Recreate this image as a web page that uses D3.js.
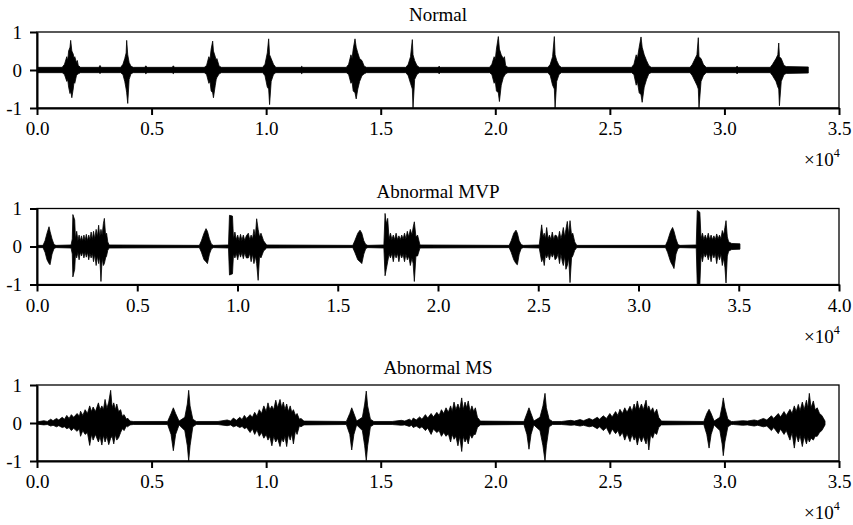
<!DOCTYPE html>
<html>
<head>
<meta charset="utf-8">
<script src="https://cdn.jsdelivr.net/npm/d3@7"></script>
<style>
  body { margin: 0; background: #fff; }
  text { font-family: "Liberation Serif", "Times New Roman", serif; }
</style>
</head>
<body>
<svg id="chart" width="853" height="525"></svg>
<script>
// panel titles, x extents (samples) and ticks
var titles = ["Normal", "Abnormal MVP", "Abnormal MS"];
var xMax = [35000, 40000, 35000];
var xTicks = [
    [0, 5000, 10000, 15000, 20000, 25000, 30000, 35000],
    [0, 5000, 10000, 15000, 20000, 25000, 30000, 35000, 40000],
    [0, 5000, 10000, 15000, 20000, 25000, 30000, 35000]
];
var yTicks = [-1, 0, 1];

// signal envelopes: [sample, upper, lower]
var normalEnv = [
    [0, 0.07, -0.07],
    [1100, 0.07, -0.07], [1200, 0.15, -0.12], [1300, 0.35, -0.3], [1340, 0.25, -0.25], [1380, 0.5, -0.45],
    [1440, 0.6, -0.62], [1470, 0.78, -0.55], [1520, 0.5, -0.73], [1580, 0.42, -0.5], [1620, 0.3, -0.3],
    [1650, 0.35, -0.35], [1720, 0.2, -0.15], [1760, 0.25, -0.12], [1800, 0.12, -0.1], [1900, 0.07, -0.07],
    [2700, 0.07, -0.07], [2750, 0.12, -0.09], [2800, 0.07, -0.07],
    [3650, 0.07, -0.07], [3750, 0.15, -0.12], [3830, 0.3, -0.3], [3890, 0.45, -0.5], [3914, 0.78, -0.6],
    [3960, 0.4, -0.88], [4020, 0.2, -0.25], [4100, 0.1, -0.1], [4200, 0.07, -0.07],
    [4700, 0.07, -0.07], [4750, 0.11, -0.1], [4800, 0.07, -0.07],
    [5900, 0.07, -0.07], [5950, 0.11, -0.1], [6000, 0.07, -0.07],
    [7300, 0.07, -0.07], [7400, 0.12, -0.12], [7500, 0.35, -0.35], [7550, 0.28, -0.3], [7600, 0.55, -0.55],
    [7667, 0.76, -0.6], [7700, 0.5, -0.73], [7780, 0.35, -0.4], [7820, 0.25, -0.25], [7850, 0.3, -0.2],
    [7950, 0.1, -0.1], [8050, 0.07, -0.07],
    [9850, 0.07, -0.07], [9950, 0.15, -0.15], [10050, 0.45, -0.45], [10110, 0.82, -0.5], [10150, 0.4, -0.91],
    [10220, 0.3, -0.3], [10320, 0.15, -0.12], [10420, 0.07, -0.07],
    [11500, 0.07, -0.07], [11550, 0.1, -0.1], [11600, 0.07, -0.07],
    [13500, 0.07, -0.07], [13600, 0.15, -0.12], [13700, 0.4, -0.35], [13750, 0.3, -0.3], [13800, 0.55, -0.55],
    [13878, 0.82, -0.6], [13930, 0.6, -0.76], [14000, 0.45, -0.5], [14080, 0.3, -0.3], [14180, 0.25, -0.15],
    [14280, 0.1, -0.1], [14380, 0.07, -0.07],
    [16100, 0.07, -0.07], [16200, 0.15, -0.15], [16300, 0.35, -0.35], [16380, 0.8, -0.5], [16410, 0.4, -1.0],
    [16480, 0.25, -0.25], [16580, 0.12, -0.12], [16680, 0.07, -0.07],
    [17500, 0.07, -0.07], [17550, 0.1, -0.1], [17600, 0.07, -0.07],
    [19750, 0.07, -0.07], [19850, 0.15, -0.12], [19950, 0.35, -0.35], [20000, 0.28, -0.3], [20050, 0.55, -0.55],
    [20133, 0.88, -0.6], [20180, 0.55, -0.83], [20260, 0.4, -0.4], [20350, 0.3, -0.2], [20400, 0.35, -0.15],
    [20450, 0.12, -0.1], [20550, 0.07, -0.07],
    [22300, 0.07, -0.07], [22400, 0.15, -0.15], [22500, 0.35, -0.4], [22577, 0.88, -0.5], [22610, 0.4, -1.0],
    [22680, 0.25, -0.3], [22780, 0.12, -0.12], [22880, 0.07, -0.07],
    [25950, 0.07, -0.07], [26050, 0.15, -0.12], [26150, 0.4, -0.4], [26200, 0.3, -0.3], [26280, 0.6, -0.6],
    [26360, 0.87, -0.65], [26410, 0.6, -0.85], [26500, 0.4, -0.45], [26600, 0.25, -0.25], [26700, 0.12, -0.1],
    [26800, 0.07, -0.07],
    [28500, 0.07, -0.07], [28600, 0.15, -0.15], [28720, 0.3, -0.3], [28800, 0.4, -0.4], [28860, 0.85, -0.5],
    [28890, 0.35, -1.0], [28980, 0.3, -0.3], [29080, 0.15, -0.15], [29200, 0.07, -0.07],
    [30500, 0.07, -0.07], [30550, 0.1, -0.1], [30600, 0.07, -0.07],
    [32000, 0.07, -0.07], [32100, 0.15, -0.15], [32250, 0.3, -0.3], [32330, 0.4, -0.45], [32370, 0.71, -0.5],
    [32400, 0.35, -0.94], [32480, 0.3, -0.3], [32600, 0.12, -0.12], [32700, 0.09, -0.09],
    [33660, 0.08, -0.08]
];

var mvpEnv = [
    [0, 0.03, -0.03],
    [300, 0.03, -0.03], [400, 0.15, -0.15], [500, 0.35, -0.35], [600, 0.52, -0.45], [650, 0.4, -0.48],
    [750, 0.2, -0.2], [850, 0.05, -0.05], [950, 0.03, -0.03],
    [1700, 0.04, -0.04], [1760, 0.2, -0.2], [1790, 0.84, -0.8], [1880, 0.7, -0.6], [1920, 0.2, -0.2],
    [1980, 0.4, -0.3], [2040, 0.15, -0.15], [2100, 0.3, -0.35], [2160, 0.15, -0.15], [2220, 0.28, -0.25],
    [2280, 0.14, -0.14], [2340, 0.3, -0.3], [2400, 0.15, -0.15], [2460, 0.32, -0.28], [2520, 0.15, -0.15],
    [2580, 0.3, -0.35], [2640, 0.18, -0.18], [2700, 0.38, -0.3], [2760, 0.18, -0.18], [2820, 0.4, -0.4],
    [2880, 0.2, -0.2], [2950, 0.45, -0.5], [3010, 0.25, -0.25], [3075, 0.56, -0.45], [3130, 0.25, -0.25],
    [3190, 0.45, -0.92], [3250, 0.3, -0.3], [3310, 0.6, -0.5], [3360, 0.74, -0.45], [3420, 0.3, -0.3],
    [3470, 0.35, -0.25], [3530, 0.12, -0.1], [3600, 0.04, -0.04],
    [8100, 0.03, -0.03], [8200, 0.15, -0.15], [8330, 0.35, -0.35], [8430, 0.47, -0.4], [8500, 0.4, -0.45],
    [8600, 0.2, -0.2], [8700, 0.06, -0.06], [8800, 0.03, -0.03],
    [9550, 0.04, -0.04], [9600, 0.82, -0.75], [9750, 0.8, -0.72], [9800, 0.2, -0.2], [9870, 0.38, -0.3],
    [9940, 0.18, -0.18], [10010, 0.3, -0.35], [10080, 0.15, -0.15], [10150, 0.32, -0.28], [10220, 0.16, -0.16],
    [10290, 0.3, -0.32], [10360, 0.16, -0.16], [10440, 0.28, -0.3], [10540, 0.35, -0.3], [10610, 0.18, -0.18],
    [10680, 0.3, -0.4], [10750, 0.2, -0.2], [10820, 0.45, -0.45], [10890, 0.25, -0.25], [10955, 0.73, -0.45],
    [11030, 0.45, -0.89], [11100, 0.25, -0.25], [11170, 0.35, -0.3], [11300, 0.15, -0.12], [11455, 0.04, -0.04],
    [15750, 0.03, -0.03], [15850, 0.15, -0.15], [16000, 0.35, -0.35], [16110, 0.43, -0.4], [16200, 0.35, -0.45],
    [16300, 0.15, -0.2], [16400, 0.05, -0.05], [16500, 0.03, -0.03],
    [17300, 0.04, -0.04], [17360, 0.87, -0.77], [17420, 0.6, -0.6], [17490, 0.74, -0.4], [17560, 0.2, -0.2],
    [17630, 0.35, -0.3], [17700, 0.18, -0.18], [17770, 0.3, -0.4], [17840, 0.18, -0.18], [17910, 0.35, -0.3],
    [17980, 0.18, -0.18], [18050, 0.28, -0.4], [18120, 0.18, -0.18], [18190, 0.3, -0.3], [18260, 0.2, -0.2],
    [18330, 0.35, -0.4], [18400, 0.2, -0.2], [18470, 0.4, -0.35], [18540, 0.25, -0.25], [18620, 0.45, -0.5],
    [18700, 0.3, -0.3], [18760, 0.5, -0.45], [18820, 0.65, -0.92], [18900, 0.25, -0.25], [18980, 0.3, -0.25],
    [19100, 0.04, -0.04],
    [23550, 0.03, -0.03], [23650, 0.15, -0.15], [23780, 0.35, -0.35], [23890, 0.43, -0.45], [23960, 0.35, -0.48],
    [24050, 0.15, -0.2], [24150, 0.05, -0.05], [24250, 0.03, -0.03],
    [25050, 0.04, -0.04], [25170, 0.57, -0.4], [25240, 0.25, -0.3], [25300, 0.35, -0.5], [25360, 0.2, -0.2],
    [25420, 0.5, -0.3], [25490, 0.2, -0.2], [25560, 0.3, -0.35], [25630, 0.18, -0.18], [25700, 0.38, -0.28],
    [25770, 0.18, -0.18], [25840, 0.3, -0.35], [25920, 0.28, -0.3], [25990, 0.18, -0.18], [26060, 0.4, -0.45],
    [26130, 0.2, -0.2], [26200, 0.35, -0.4], [26250, 0.5, -0.5], [26320, 0.25, -0.25], [26380, 0.45, -0.6],
    [26450, 0.66, -0.5], [26520, 0.3, -0.3], [26585, 0.68, -0.95], [26660, 0.3, -0.3], [26720, 0.35, -0.25],
    [26820, 0.12, -0.1], [26920, 0.03, -0.03],
    [31350, 0.03, -0.03], [31450, 0.15, -0.15], [31600, 0.4, -0.4], [31700, 0.5, -0.5], [31770, 0.4, -0.58],
    [31870, 0.2, -0.2], [31970, 0.05, -0.05], [32070, 0.03, -0.03],
    [32880, 0.04, -0.04], [32930, 0.95, -1.0], [33060, 0.9, -1.0], [33120, 0.2, -0.2], [33190, 0.35, -0.4],
    [33260, 0.18, -0.18], [33330, 0.3, -0.28], [33400, 0.18, -0.18], [33480, 0.35, -0.35], [33550, 0.18, -0.18],
    [33620, 0.3, -0.4], [33690, 0.18, -0.18], [33760, 0.28, -0.3], [33830, 0.18, -0.18], [33900, 0.33, -0.45],
    [33970, 0.2, -0.2], [34040, 0.3, -0.35], [34110, 0.2, -0.2], [34180, 0.42, -0.5], [34250, 0.3, -0.3],
    [34310, 0.5, -0.55], [34365, 0.68, -0.96], [34430, 0.25, -0.25], [34500, 0.12, -0.12], [34650, 0.08, -0.08],
    [35060, 0.07, -0.07]
];

var msEnv = [
    [0, 0.03, -0.03], [300, 0.06, -0.05], [450, 0.04, -0.04], [600, 0.1, -0.08], [700, 0.06, -0.06],
    [850, 0.12, -0.1], [950, 0.08, -0.07], [1100, 0.15, -0.12], [1200, 0.1, -0.1], [1300, 0.2, -0.15],
    [1400, 0.12, -0.12], [1500, 0.22, -0.2], [1600, 0.15, -0.14], [1750, 0.25, -0.22], [1850, 0.18, -0.15],
    [1900, 0.31, -0.35], [2000, 0.2, -0.2], [2100, 0.35, -0.3], [2200, 0.25, -0.25], [2300, 0.45, -0.59],
    [2380, 0.3, -0.3], [2450, 0.42, -0.45], [2550, 0.3, -0.3], [2680, 0.53, -0.5], [2750, 0.35, -0.35],
    [2830, 0.45, -0.58], [2900, 0.35, -0.32], [2970, 0.62, -0.5], [3050, 0.38, -0.35], [3130, 0.55, -0.57],
    [3215, 0.86, -0.4], [3280, 0.4, -0.35], [3350, 0.53, -0.55], [3420, 0.35, -0.3], [3480, 0.5, -0.45],
    [3560, 0.3, -0.39], [3650, 0.35, -0.25], [3720, 0.18, -0.15], [3800, 0.22, -0.2], [3900, 0.1, -0.08],
    [3950, 0.13, -0.1], [4060, 0.05, -0.05], [4200, 0.04, -0.04],
    [5700, 0.04, -0.04], [5850, 0.25, -0.3], [5950, 0.4, -0.73], [6050, 0.25, -0.3], [6200, 0.05, -0.05],
    [6450, 0.15, -0.2], [6560, 0.5, -0.6], [6620, 0.86, -1.0], [6680, 0.45, -0.6], [6800, 0.1, -0.1],
    [6950, 0.04, -0.04],
    [7900, 0.04, -0.04], [8300, 0.08, -0.07], [8450, 0.05, -0.05], [8570, 0.13, -0.1], [8700, 0.07, -0.07],
    [8850, 0.15, -0.12], [8950, 0.09, -0.09], [9050, 0.2, -0.15], [9150, 0.12, -0.12], [9300, 0.22, -0.25],
    [9400, 0.15, -0.15], [9500, 0.28, -0.3], [9600, 0.18, -0.18], [9700, 0.35, -0.35], [9800, 0.25, -0.25],
    [9900, 0.45, -0.4], [10000, 0.3, -0.3], [10080, 0.53, -0.45], [10160, 0.35, -0.35], [10250, 0.45, -0.6],
    [10330, 0.35, -0.35], [10420, 0.6, -0.5], [10500, 0.4, -0.4], [10605, 0.62, -0.62], [10680, 0.4, -0.4],
    [10750, 0.55, -0.5], [10820, 0.35, -0.35], [10896, 0.5, -0.62], [10970, 0.3, -0.3], [11050, 0.45, -0.45],
    [11120, 0.28, -0.28], [11190, 0.35, -0.55], [11280, 0.2, -0.2], [11350, 0.25, -0.3], [11450, 0.1, -0.08],
    [11520, 0.12, -0.1], [11650, 0.05, -0.05],
    [13500, 0.04, -0.04], [13650, 0.25, -0.3], [13735, 0.4, -0.71], [13830, 0.25, -0.3], [13950, 0.05, -0.05],
    [14200, 0.15, -0.2], [14300, 0.5, -0.6], [14370, 0.84, -0.99], [14430, 0.45, -0.6], [14550, 0.1, -0.1],
    [14700, 0.04, -0.04],
    [15500, 0.04, -0.04], [15900, 0.07, -0.06], [16050, 0.05, -0.05], [16250, 0.1, -0.09], [16350, 0.06, -0.06],
    [16420, 0.13, -0.12], [16550, 0.08, -0.08], [16700, 0.16, -0.14], [16800, 0.1, -0.1], [16950, 0.22, -0.2],
    [17050, 0.13, -0.13], [17200, 0.25, -0.3], [17300, 0.16, -0.16], [17450, 0.28, -0.25], [17550, 0.2, -0.2],
    [17650, 0.35, -0.35], [17750, 0.25, -0.25], [17850, 0.4, -0.35], [17950, 0.28, -0.28], [18050, 0.45, -0.5],
    [18120, 0.3, -0.3], [18200, 0.55, -0.43], [18280, 0.35, -0.35], [18370, 0.5, -0.6], [18450, 0.35, -0.35],
    [18535, 0.66, -0.75], [18600, 0.35, -0.35], [18680, 0.55, -0.5], [18750, 0.4, -0.4], [18820, 0.58, -0.55],
    [18900, 0.3, -0.3], [18980, 0.45, -0.4], [19060, 0.3, -0.3], [19130, 0.4, -0.3], [19220, 0.15, -0.12],
    [19350, 0.05, -0.05],
    [21250, 0.04, -0.04], [21380, 0.25, -0.3], [21470, 0.4, -0.69], [21560, 0.25, -0.3], [21680, 0.05, -0.05],
    [21950, 0.15, -0.2], [22080, 0.45, -0.6], [22170, 0.78, -1.0], [22230, 0.4, -0.6], [22350, 0.1, -0.1],
    [22500, 0.04, -0.04],
    [22900, 0.04, -0.04], [23300, 0.07, -0.06], [23450, 0.05, -0.05], [23700, 0.09, -0.08], [23850, 0.06, -0.06],
    [24100, 0.12, -0.1], [24250, 0.08, -0.08], [24450, 0.15, -0.15], [24550, 0.1, -0.1], [24715, 0.19, -0.2],
    [24850, 0.12, -0.12], [25000, 0.25, -0.3], [25100, 0.16, -0.16], [25250, 0.3, -0.28], [25350, 0.2, -0.2],
    [25440, 0.36, -0.35], [25550, 0.25, -0.25], [25650, 0.4, -0.45], [25750, 0.28, -0.28], [25880, 0.44, -0.49],
    [25970, 0.3, -0.3], [26060, 0.5, -0.45], [26120, 0.35, -0.35], [26200, 0.58, -0.58], [26280, 0.35, -0.35],
    [26380, 0.5, -0.5], [26460, 0.35, -0.35], [26580, 0.6, -0.55], [26640, 0.35, -0.35], [26700, 0.45, -0.71],
    [26780, 0.3, -0.3], [26870, 0.4, -0.4], [26950, 0.25, -0.25], [27045, 0.36, -0.3], [27130, 0.15, -0.12],
    [27250, 0.05, -0.05],
    [29100, 0.04, -0.04], [29230, 0.25, -0.3], [29330, 0.36, -0.66], [29420, 0.25, -0.3], [29550, 0.05, -0.05],
    [29800, 0.15, -0.2], [29900, 0.45, -0.55], [29950, 0.66, -0.86], [30020, 0.4, -0.5], [30150, 0.1, -0.1],
    [30300, 0.04, -0.04],
    [30400, 0.04, -0.04], [30800, 0.06, -0.06], [31000, 0.05, -0.05], [31300, 0.08, -0.08], [31450, 0.06, -0.06],
    [31700, 0.12, -0.1], [31850, 0.08, -0.08], [32050, 0.19, -0.2], [32150, 0.12, -0.12], [32350, 0.25, -0.28],
    [32450, 0.16, -0.16], [32600, 0.3, -0.3], [32700, 0.2, -0.2], [32860, 0.36, -0.45], [32950, 0.25, -0.25],
    [33050, 0.45, -0.66], [33130, 0.3, -0.3], [33225, 0.49, -0.5], [33300, 0.32, -0.32], [33400, 0.55, -0.62],
    [33480, 0.35, -0.35], [33580, 0.6, -0.55], [33640, 0.38, -0.38], [33705, 0.78, -0.5], [33780, 0.4, -0.4],
    [33880, 0.58, -0.45], [33960, 0.35, -0.35], [34050, 0.4, -0.35], [34150, 0.25, -0.25], [34250, 0.2, -0.2],
    [34390, 0.05, -0.05]
];

var envs = [normalEnv, mvpEnv, msEnv];

var svg = d3.select('#chart');
var left = 37, plotW = 802, plotH = 76;

titles.forEach(function (title, i) {
    var top = 32 + i * 176.5;
    var g = svg.append('g').attr('transform', 'translate(' + left + ',' + top + ')');

    var x = d3.scaleLinear().domain([0, xMax[i]]).range([0, plotW]);
    var y = d3.scaleLinear().domain([-1, 1]).range([plotH, 0]);

    g.append('clipPath').attr('id', 'clip' + i)
        .append('rect').attr('width', plotW).attr('height', plotH);

    var area = d3.area()
        .x(function (d) { return x(d[0]); })
        .y0(function (d) { return y(d[2]); })
        .y1(function (d) { return y(d[1]); });

    g.append('path')
        .datum(envs[i])
        .attr('clip-path', 'url(#clip' + i + ')')
        .attr('d', area)
        .attr('fill', '#000')
        .attr('stroke', '#000')
        .attr('stroke-width', 0.8)
        .attr('stroke-linejoin', 'miter');

    // frame
    g.append('rect')
        .attr('width', plotW).attr('height', plotH)
        .attr('fill', 'none').attr('stroke', '#000').attr('stroke-width', 1.3);

    var xAxis = g.append('g')
        .attr('transform', 'translate(0,' + plotH + ')')
        .call(d3.axisBottom(x).tickValues(xTicks[i]).tickSize(7).tickPadding(7).tickSizeOuter(0)
            .tickFormat(function (d) { return (d / 1e4).toFixed(1); }));

    var yAxis = g.append('g')
        .call(d3.axisLeft(y).tickValues(yTicks).tickSize(7).tickPadding(8).tickSizeOuter(0)
            .tickFormat(function (d) { return String(d); }));

    [xAxis, yAxis].forEach(function (ax) {
        ax.attr('font-size', 19).attr('font-family', '"Liberation Serif", serif');
        ax.select('.domain').attr('stroke-width', 2);
        ax.selectAll('.tick line').attr('stroke-width', 2);
        ax.selectAll('.tick text').attr('fill', '#000');
    });

    g.append('text')
        .attr('x', plotW / 2).attr('y', -11)
        .attr('text-anchor', 'middle')
        .attr('font-size', 19)
        .text(title);

    var mult = g.append('text')
        .attr('x', 767).attr('y', 134)
        .attr('font-size', 19);
    mult.append('tspan').text('\u00d710');
    mult.append('tspan').attr('font-size', 12).attr('dy', -9).text('4');
});
</script>
</body>
</html>
